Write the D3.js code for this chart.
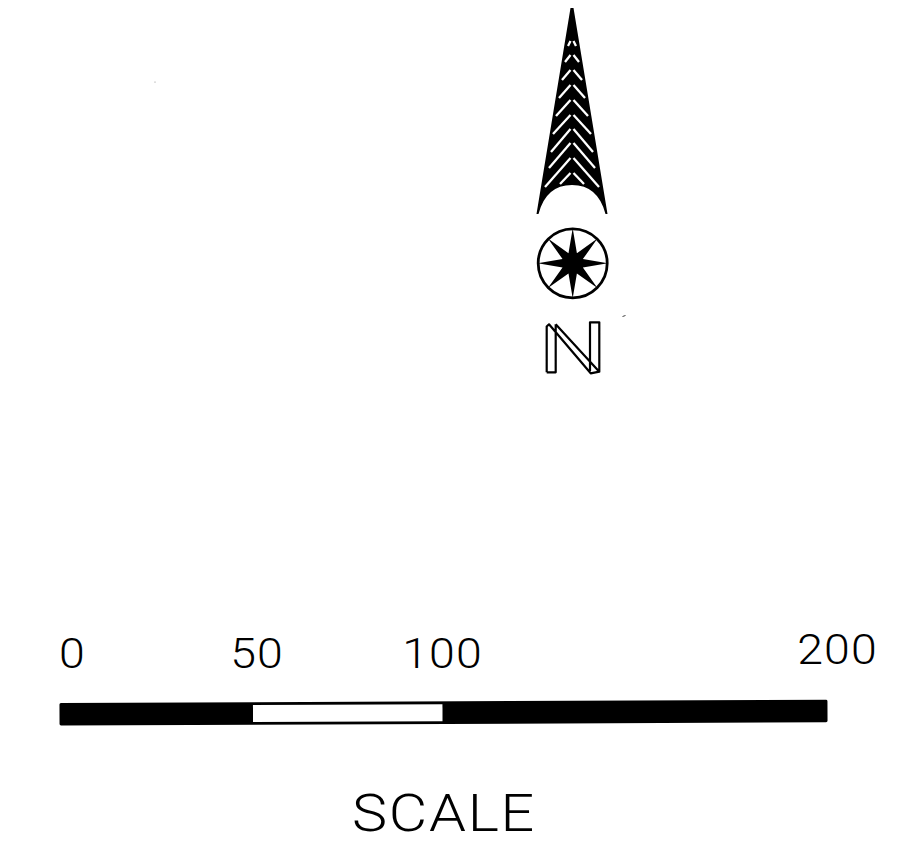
<!DOCTYPE html>
<html><head><meta charset="utf-8">
<script src="https://cdn.jsdelivr.net/npm/d3@7"></script>
<style>html,body{margin:0;background:#fff}svg{display:block}</style></head>
<body><div id="c"></div>
<script>
const scaleStops=[0,50,100,200];
const scaleLabels=["0","50","100","200"];
const segmentFill=["#000","#fff","#000"];
const scaleTitle="SCALE";
const chevronApex=[41,55,70,85,100,115,129,143,158,173];
const chevronEnd=[46,62,80,98,116,134,152,168,187,184];
const chevronReach=[4,7,10,13,16,19,21,23,27,12];
const compassPoints=d3.range(8);

const W=898,H=843;
const svg=d3.select("#c").append("svg").attr("width",W).attr("height",H);
const x=d3.scaleLinear().domain(scaleStops).range([59.5,253,442.5,827.5]);

// Scale bar (slightly tilted, as in the scanned drawing)
const bar=svg.append("g").attr("transform","rotate(-0.246 59.5 714.3)");
bar.append("rect").attr("x",x(0)).attr("y",703).attr("width",x(200)-x(0)).attr("height",22.6).attr("rx",1.5).attr("fill","#000");
bar.selectAll("rect.seg").data(d3.pairs(scaleStops).map((p,i)=>({p,f:segmentFill[i]})).filter(d=>d.f!=="#000")).join("rect")
  .attr("class","seg").attr("x",d=>x(d.p[0])).attr("width",d=>x(d.p[1])-x(d.p[0]))
  .attr("y",705.8).attr("height",17).attr("fill",d=>d.f);

const labelDx={0:13,50:4,100:0,200:10};
svg.selectAll("text.lab").data(scaleStops).join("text").attr("class","lab")
  .attr("transform",d=>`translate(${x(d)+labelDx[d]},${d===200?664:668}) scale(1.08,1)`)
  .attr("text-anchor","middle").attr("font-family","Roboto").attr("font-weight",300)
  .attr("font-size",43).attr("letter-spacing",1).text((d,i)=>scaleLabels[i]);
svg.append("text").attr("transform","translate(444,831) scale(1.16,1)").attr("text-anchor","middle")
  .attr("font-family","Roboto").attr("font-weight",300).attr("font-size",51).attr("letter-spacing",1.5).text(scaleTitle);

// North arrow
const cx=572;
svg.append("path").attr("fill","#000").attr("d",`M${cx-1.5},8 L${cx+1.5},8 L${cx+35.5},214 L${cx+33.5},214 Q${cx+26},185 ${cx},185 Q${cx-26},185 ${cx-33.5},214 L${cx-35.5},214 Z`);
const chev=svg.append("g").attr("stroke","#fff").attr("stroke-width",2.3).attr("fill","none");
chevronApex.forEach((a,i)=>{
  [-1,1].forEach(s=>{
    chev.append("line").attr("x1",cx+s*1.5).attr("y1",a).attr("x2",cx+s*chevronReach[i]).attr("y2",chevronEnd[i]);
  });
});

// Compass
const cg=svg.append("g").attr("transform","translate(572.7,263.3)");
cg.append("circle").attr("r",34.5).attr("fill","#fff").attr("stroke","#000").attr("stroke-width",2.8);
const star=compassPoints.flatMap(i=>[[i*Math.PI/4,35],[(i+.5)*Math.PI/4,11]]);
cg.append("path").attr("fill","#000").attr("d",d3.lineRadial().curve(d3.curveLinearClosed)(star));

// N (outlined letter)
svg.append("path").attr("fill","none").attr("stroke","#000").attr("stroke-width",2.2).attr("stroke-linejoin","round")
  .attr("d","M546.7,372.3 L546.7,326.5 L549,324.3 L590.7,373.3 L599.3,371.7 L599.3,322.3 L590,322.3 L590,371 M555.7,324.3 L599.3,371.7 M555.7,324.3 L555.7,372.3 L546.7,372.3");

// Stray scan specks
svg.append("path").attr("stroke","#444").attr("stroke-width",1).attr("d","M622.5,316.5 L625.5,315.5");
svg.append("circle").attr("cx",155).attr("cy",82).attr("r",.6).attr("fill","#888");
</script></body></html>
